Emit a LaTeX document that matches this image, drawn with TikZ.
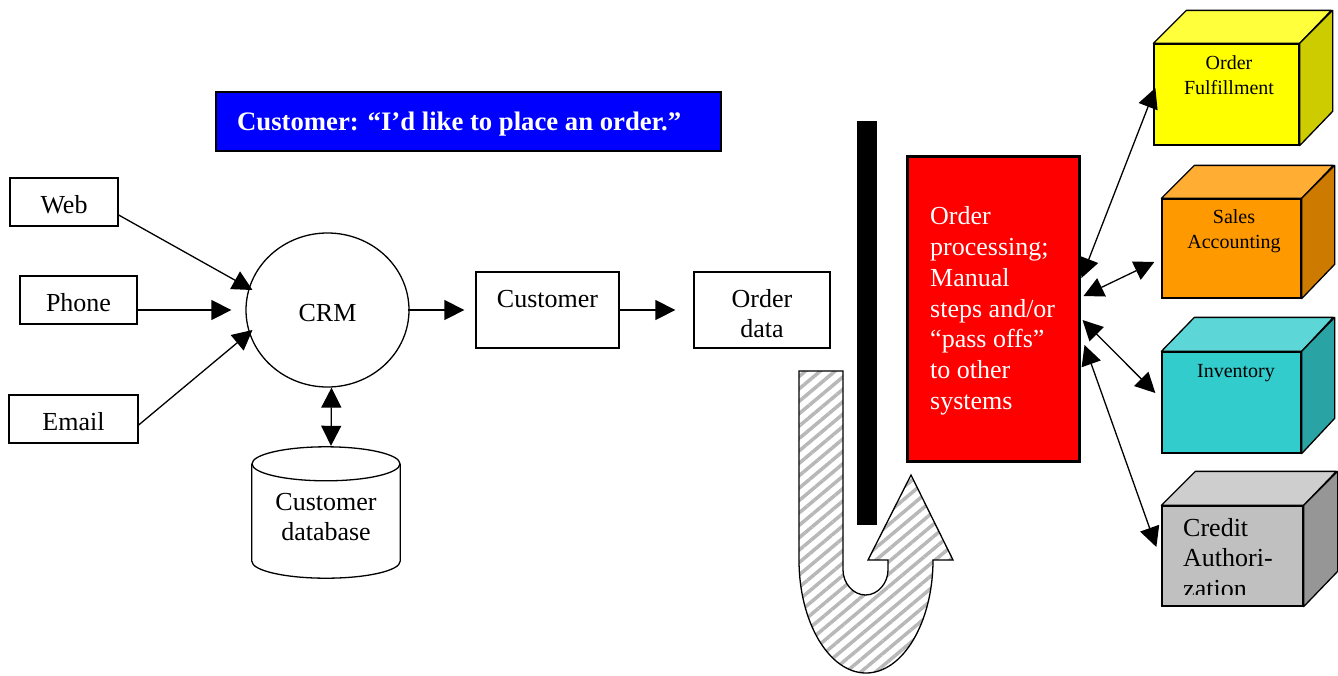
\documentclass[tikz,border=0pt]{standalone}
\usepackage{fontspec}
\setmainfont{Liberation Serif}
\usetikzlibrary{arrows.meta,calc,shapes.geometric,patterns.meta}
\definecolor{yfront}{RGB}{255,255,0}
\definecolor{ytop}{RGB}{255,255,60}
\definecolor{yside}{RGB}{204,204,0}
\definecolor{ofront}{RGB}{255,153,0}
\definecolor{otop}{RGB}{255,173,51}
\definecolor{oside}{RGB}{204,122,0}
\definecolor{tfront}{RGB}{51,204,204}
\definecolor{ttop}{RGB}{92,214,214}
\definecolor{tside}{RGB}{41,163,163}
\definecolor{gfront}{RGB}{192,192,192}
\definecolor{gtop}{RGB}{206,206,206}
\definecolor{gside}{RGB}{150,150,150}
\definecolor{bannerblue}{RGB}{0,0,255}
\definecolor{procred}{RGB}{255,0,0}
\begin{document}
\begin{tikzpicture}[x=1pt,y=-1pt,
  lw/.style={line width=1.3pt},
  box/.style={draw, line width=1.3pt, inner sep=0pt, font=\fontsize{26}{30}\selectfont},
  one/.style={text height=23pt, text depth=0pt},
  txt/.style={inner sep=0pt, font=\fontsize{26}{30}\selectfont, align=center},
  small/.style={inner sep=0pt, font=\fontsize{20}{25}\selectfont, align=center},
  arr/.style={line width=1.3pt, -{Triangle[length=20pt,width=20pt]}},
  darr/.style={line width=1.3pt, {Triangle[length=20pt,width=20pt]}-{Triangle[length=20pt,width=20pt]}},
  cubeface/.style={draw, line width=1.3pt, inner sep=0pt},
  cubeline/.style={line width=1.3pt, line join=round}]
\fill[white] (0,0) rectangle (1338,675);
\useasboundingbox (0,0) rectangle (1338,675);

% banner
\node[draw, line width=1.5pt, fill=bannerblue, minimum width=505, minimum height=59, inner sep=0pt] (banner) at (468.5,121.5) {};
\node[anchor=base west, inner sep=0pt, text=white, font=\fontsize{26.7}{30}\selectfont\bfseries] (bannerT) at (237,130) {Customer: “I’d like to place an order.”};

% channels
\node[box, one, minimum width=108, minimum height=48] (web) at (64,202) {Web};
\node[box, one, minimum width=117, minimum height=48] (phone) at (78.5,300) {Phone};
\node[box, one, minimum width=129, minimum height=48] (email) at (73.5,419) {Email};

% CRM
\node[box, one, ellipse, minimum width=163, minimum height=154] (crm) at (327.5,310) {CRM};

\draw[arr] ($(web.east)+(0,13)$) -- ($(crm.center)+(-75,-20)$);
\draw[arr] ($(phone.east)+(0,10)$) -- ($(crm.west)+(-14,0)$);
\draw[arr] ($(email.east)+(0,6)$) -- ($(crm.center)+(-75,20)$);

% customer, order data
\node[box, minimum width=143, minimum height=76, text height=20pt, text depth=26pt] (cust) at (547.5,310) {Customer};
\node[box, minimum width=136, minimum height=76] (ord) at (762,310) {};
\node[txt] (ordT) at ($(ord.center)+(0,4)$) {Order\\data};
\draw[arr] ($(crm.east)+(-2,0)$) -- ($(cust.west)+(-11,0)$);
\draw[arr] (cust.east) -- ($(ord.west)+(-18,0)$);

% database cylinder
\node[inner sep=0pt, minimum width=148, minimum height=131] (db) at (326,512.5) {};
\node[txt] (dbT) at ($(db.center)+(0,7)$) {\begin{tabular}{@{}c@{}}Customer\\[-0.5pt]database\end{tabular}};
\draw[lw] ($(db.north)+(0,17)$) ellipse[x radius=74, y radius=17];
\draw[lw] ($(db.north west)+(0,17)$) -- ($(db.south west)+(0,-17)$)
  .. controls +(0,9.4) and +(-40.9,0) .. (db.south)
  .. controls +(40.9,0) and +(0,9.4) .. ($(db.south east)+(0,-17)$)
  -- ($(db.north east)+(0,17)$);
\draw[darr] ($(crm.south)+(4,0)$) -- ($(db.north)+(5,-1)$);

% U-turn arrow
\draw[line width=1.3pt, line join=miter, preaction={fill=white},
      pattern={Lines[angle=40,distance=9.5pt,line width=3.5pt]}, pattern color=black!28]
  (799,371) -- (843,371) -- (843,570)
  .. controls (843,583) and (853,595) .. (865.5,595)
  .. controls (878,595) and (888,583) .. (888,570)
  -- (888,560) -- (868,560) -- (911,475) -- (953,560) -- (933,560)
  .. controls (933,622) and (903,673) .. (866,673)
  .. controls (829,673) and (799,622) .. (799,560) -- cycle;

% black wall
\node[fill=black, minimum width=20, minimum height=404, inner sep=0pt] (wall) at (867,323) {};

% order processing
\node[draw, line width=3pt, fill=procred, minimum width=172, minimum height=305, inner sep=0pt] (proc) at (993,308.5) {};
\node[anchor=north west, inner sep=0pt, align=left, text=white, font=\fontsize{26}{30.8}\selectfont] (procT) at (930,206.5) {Order\\processing;\\Manual\\steps and/or\\“pass offs”\\to other\\systems};

% cube: order fulfillment
\node[cubeface, fill=yfront, minimum width=145, minimum height=101] (ful) at (1226.5,94.5) {};
\draw[cubeline, fill=ytop] (ful.north west) -- ++(33,-33) -- ++(145,0) -- (ful.north east) -- cycle;
\draw[cubeline, fill=yside] (ful.north east) -- ++(33,-33) -- ++(0,101) -- (ful.south east) -- cycle;
\node[small] (fulT) at (1229,75.5) {Order\\Fulfillment};

% cube: sales accounting
\node[cubeface, fill=ofront, minimum width=139, minimum height=99] (sal) at (1231.5,248.5) {};
\draw[cubeline, fill=otop] (sal.north west) -- ++(33,-33) -- ++(139,0) -- (sal.north east) -- cycle;
\draw[cubeline, fill=oside] (sal.north east) -- ++(33,-33) -- ++(0,99) -- (sal.south east) -- cycle;
\node[small] (salT) at (1234,231.5) {Sales\\Accounting};

% cube: inventory
\node[cubeface, fill=tfront, minimum width=139, minimum height=101] (inv) at (1231.5,402.5) {};
\draw[cubeline, fill=ttop] (inv.north west) -- ++(33,-34) -- ++(139,0) -- (inv.north east) -- cycle;
\draw[cubeline, fill=tside] (inv.north east) -- ++(33,-34) -- ++(0,101) -- (inv.south east) -- cycle;
\node[small] (invT) at (1236,373) {Inventory};

% cube: credit authorization
\node[cubeface, fill=gfront, minimum width=141, minimum height=100] (cred) at (1232.5,556) {};
\draw[cubeline, fill=gtop] (cred.north west) -- ++(34,-34) -- ++(141,0) -- (cred.north east) -- cycle;
\draw[cubeline, fill=gside] (cred.north east) -- ++(34,-34) -- ++(0,100) -- (cred.south east) -- cycle;
\begin{scope}
  \clip (1163,507) rectangle (1300,594);
  \node[anchor=north west, inner sep=0pt, align=left, font=\fontsize{26}{30.5}\selectfont] (credT) at (1183,518) {Credit\\Authori-\\zation};
\end{scope}

% connectors to systems
\draw[darr] ($(proc.east)+(1,-30.5)$) -- ($(ful.west)+(2,-6.5)$);
\draw[darr] ($(proc.east)+(3,-12.5)$) -- ($(sal.west)+(-7,13.5)$);
\draw[darr] ($(proc.east)+(2,11.5)$) -- ($(inv.west)+(-6,-9.5)$);
\draw[darr] ($(proc.east)+(4,36.5)$) -- ($(cred.west)+(-5,-9)$);
\end{tikzpicture}
\end{document}
